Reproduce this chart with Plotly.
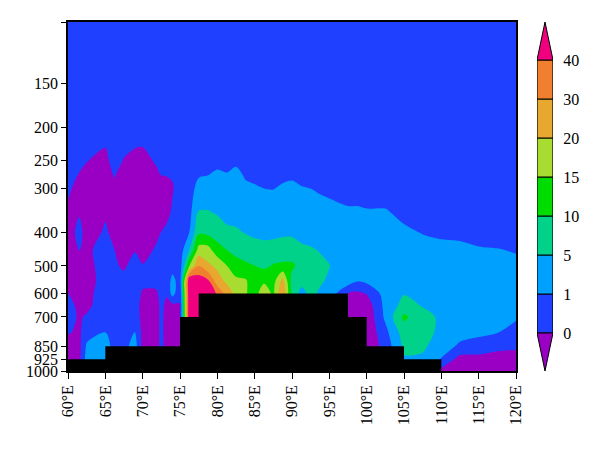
import numpy as np
import plotly.graph_objects as go

pressure = [1000, 925, 850, 775, 700, 650, 600, 550, 500, 450, 400, 350, 300, 275, 250, 225, 200, 175, 150, 100]
lons = [60, 61.5, 62.5, 65, 66.2, 67.5, 69, 70, 71.8, 72.5, 73.2, 74, 75, 76.25, 77.5, 78.75, 80, 81.25, 82.5, 83.75, 85, 86.25,
        87.5, 88.75, 90, 91.25, 92.5, 93.75, 95, 97.5, 98.75, 100, 102.5, 105, 107.5, 110, 112.5, 115, 117.5, 120]

# one list per longitude, from 1000 hPa up to 100 hPa
values_by_lon = [
    [-.4,-.4,-.5,.1,.3,.3,.02,-.3,-.4,-.5,-.5,-.2,.2,.3,.3,.3,.3,.3,.3,.3],
    [-.3,-.3,-.3,-.2,-.1,-.2,-.2,-.4,-.5,.02,.3,-.1,-.4,-.05,.2,.3,.3,.3,.3,.3],
    [2.6,2.6,1.6,.6,.1,-.2,-.3,-.4,-.3,-.15,-.4,-.5,-.4,-.15,.02,.2,.3,.3,.3,.3],
    [2.6,2.6,2.6,1.0,.6,.5,.5,.4,.4,.3,.1,-.1,-.4,-.35,-.2,.05,.3,.3,.3,.3],
    [.7,.7,.7,.6,.5,.5,.5,.4,.1,.01,-.2,-.3,-.15,.05,.3,.3,.3,.3,.3,.3],
    [.7,.7,.7,.5,.4,.4,.4,.2,-.1,-.3,-.5,-.6,-.6,-.4,-.05,.2,.3,.3,.3,.3],
    [2.6,2.6,2.6,1.2,.6,.5,.35,.35,.3,-.05,-.5,-.7,-.7,-.5,-.35,.1,.3,.3,.3,.3],
    [-.3,-.3,-.3,-.3,-.4,-.4,-.1,.2,.05,-.3,-.6,-.7,-.7,-.6,-.3,.05,.3,.3,.3,.3],
    [-.3,-.3,-.3,-.3,-.3,-.3,-.1,.2,.3,.1,-.2,-.5,-.5,-.2,.1,.3,.3,.3,.3,.3],
    [.2,.2,.2,.2,.2,.2,.2,.3,.4,.3,.01,-.3,-.3,.01,.2,.3,.3,.3,.3,.3],
    [-.3,-.3,-.3,-.3,-.3,-.2,.1,.4,.4,.3,.15,-.2,-.2,.02,.2,.3,.3,.3,.3,.3],
    [-.3,-.3,-.3,-.3,-.3,-.3,2.6,2.2,.6,.4,.3,.1,-.05,.05,.2,.3,.3,.3,.3,.3],
    [-.1,-.1,-.1,-.1,-.1,-.05,.2,.55,.5,.5,.4,.3,.3,.3,.3,.3,.3,.3,.3,.3],
    [55,55,55,55,55,55,50,55,15,5,1.0,.7,.5,.4,.3,.3,.3,.3,.3,.3],
    [55,55,55,55,55,55,50,46,30,17,9,5.25,2.6,.9,.5,.4,.3,.3,.3,.3],
    [55,55,55,55,55,55,50,41,22,17,8.5,5.25,2.6,1.0,.6,.4,.3,.3,.3,.3],
    [38,38,38,38,38,38,38,24,19,12,7.5,4.6,3,1.8,.7,.4,.3,.3,.3,.3],
    [26,26,26,26,26,26,26,19,15.2,10,6.2,3.4,2.2,1.4,.6,.4,.3,.3,.3,.3],
    [18.5,18.5,18.5,18.5,18.5,18.5,18.5,16,12,8.5,5.5,3.8,2.6,2.2,.8,.4,.3,.3,.3,.3],
    [15.5,15.5,15.5,15.5,15.5,15.5,15.5,15.5,11,7.5,4.8,3.4,1.8,.9,.5,.35,.3,.3,.3,.3],
    [13,13,13,13,13,13,13,12.5,10.1,7,4.2,3,1.4,.8,.5,.35,.3,.3,.3,.3],
    [18,18,18,18,18,18,18,14,9,6.2,4.2,2.6,1.0,.75,.5,.35,.3,.3,.3,.3],
    [14,14,14,14,14,14,14,13,10.5,6.5,4.2,2.6,.98,.7,.45,.35,.3,.3,.3,.3],
    [30,30,30,30,30,30,30,23,11,7,4.4,3,1.4,.85,.5,.35,.3,.3,.3,.3],
    [8.5,8.5,8.5,8.5,8.5,8.5,8.5,8,11,7,4.4,3,1.6,.9,.5,.35,.3,.3,.3,.3],
    [3.8,3.8,3.8,3.8,3.8,3.8,3.8,6.5,8,5.75,4,2.6,1.2,.8,.5,.35,.3,.3,.3,.3],
    [6,6,6,6,6,6,6,6.5,7,5.5,3.4,2.4,1.0,.75,.45,.35,.3,.3,.3,.3],
    [4.6,4.6,4.6,4.6,4.6,4.6,4.6,5.5,6,4.8,3.4,2.2,.9,.7,.45,.35,.3,.3,.3,.3],
    [3.6,3.6,3.6,3.6,3.6,3.6,3.6,4.6,5.1,4.2,3,1.8,.85,.6,.4,.3,.3,.3,.3,.3],
    [-.8,-.8,-.8,-.8,-.8,-.6,-.05,3.4,3.8,3.4,2.6,1.4,.7,.5,.4,.3,.3,.3,.3,.3],
    [-.8,-.8,-.8,-.8,-.8,-.6,-.2,1.4,3.4,3,2.4,1.4,.7,.5,.4,.3,.3,.3,.3,.3],
    [-.8,-.8,-.8,-.8,-.8,-.6,.05,2.2,3,3,2.2,1.2,.7,.5,.4,.3,.3,.3,.3,.3],
    [.4,.4,.4,.7,1.8,2.2,2.6,3,3,2.6,2.2,1.2,.7,.5,.4,.3,.3,.3,.3,.3],
    [4.6,4.6,6,7.5,11,6.75,4.8,3.8,3,2.2,1.4,.85,.6,.4,.35,.3,.3,.3,.3,.3],
    [4.2,4.2,6,7,6.5,4.8,3.8,3,2.6,1.8,.97,.7,.5,.4,.35,.3,.3,.3,.3,.3],
    [-.3,.95,2.6,4,4.4,3.8,3,2.6,2.2,1.6,.9,.7,.5,.4,.35,.3,.3,.3,.3,.3],
    [-.5,-.4,.85,2.2,3,3,2.6,2.2,1.8,1.4,.9,.7,.5,.4,.35,.3,.3,.3,.3,.3],
    [-.5,-.4,.7,1.6,2.2,2.2,2,1.8,1.6,1.2,.8,.6,.45,.4,.35,.3,.3,.3,.3,.3],
    [-.6,-.5,.3,1.12,1.8,1.8,1.8,1.6,1.4,1.08,.8,.6,.45,.4,.35,.3,.3,.3,.3,.3],
    [-.6,-.5,.2,.7,1.4,1.8,1.8,1.6,1.4,.97,.75,.55,.4,.35,.3,.3,.3,.3,.3,.3],
]

terrain_lon = [60, 65, 75, 77.5, 97.5, 100, 105, 110, 110, 60]
terrain_p = [925, 850, 700, 600, 700, 850, 925, 1000, 1000, 1000]

levels = [0, 1, 5, 10, 15, 20, 30, 40]
band_colors = ["#9A00C4", "#2040FF", "#00A0FF", "#00D28A", "#00DC00", "#A8DC30",
               "#E8A830", "#F08030", "#F0007E"]

x_ticks = list(range(60, 121, 5))
x_labels = [f"{v}°E" for v in x_ticks]
y_ticks = [1000, 925, 850, 700, 600, 500, 400, 300, 250, 200, 150, 100]
y_labels = ["1000", "925", "850", "700", "600", "500", "400", "300", "250", "200", "150", ""]

FONT = "Liberation Serif"
W, H = 600, 449
n_bands = len(band_colors)

# the colour bands are uneven in value, so contour on the band position
idx_pts = [-1] + list(range(len(levels))) + [len(levels)]
val_pts = [-1] + levels + [50]
z = np.interp(np.array(values_by_lon).T, val_pts, idx_pts)

scale = []
for i, c in enumerate(band_colors):
    scale += [[i / n_bands, c], [(i + 1) / n_bands, c]]

fig = go.Figure()
fig.add_trace(go.Contour(
    x=lons, y=pressure, z=z, zmin=-1, zmax=len(levels), colorscale=scale, showscale=False,
    autocontour=False, contours=dict(start=0, end=len(levels) - 1, size=1, coloring="fill", showlines=False),
    line=dict(width=0, smoothing=0.9), hoverinfo="skip"))
fig.add_trace(go.Scatter(
    x=terrain_lon, y=terrain_p, mode="lines", line=dict(shape="hv", color="black", width=0),
    fill="toself", fillcolor="black", hoverinfo="skip"))

# colour bar: inner bands as bars, the two outer bands as triangles
inner = band_colors[1:-1]
fig.add_trace(go.Bar(
    x=[0] * len(inner), y=[1] * len(inner), base=list(range(len(inner))), width=1,
    marker=dict(color=inner, line=dict(color="black", width=1.2)), xaxis="x2", yaxis="y2", hoverinfo="skip"))
tip = 38 / 39
top = len(inner)
fig.add_trace(go.Scatter(
    x=[-.5, 0, .5, -.5], y=[top, top + tip, top, top], mode="lines", fill="toself",
    fillcolor=band_colors[-1], line=dict(color="black", width=1), xaxis="x2", yaxis="y2", hoverinfo="skip"))
fig.add_trace(go.Scatter(
    x=[-.5, 0, .5, -.5], y=[0, -tip, 0, 0], mode="lines", fill="toself",
    fillcolor=band_colors[0], line=dict(color="black", width=1), xaxis="x2", yaxis="y2", hoverinfo="skip"))

axis_font = dict(family=FONT, size=16, color="black")
y_dom = [1 - 371 / H, 1 - 22 / H]
fig.update_layout(
    width=W, height=H, autosize=False, showlegend=False, paper_bgcolor="white", plot_bgcolor="white",
    margin=dict(l=0, r=0, t=0, b=0), barmode="overlay",
    xaxis=dict(domain=[68 / W, 516 / W], range=[60, 120], tickvals=x_ticks, ticktext=x_labels, tickangle=-90,
               ticks="outside", ticklen=6, tickwidth=1, tickcolor="black", showline=True, linecolor="black",
               linewidth=1.5, mirror=True, showgrid=False, zeroline=False, tickfont=axis_font, automargin=False),
    yaxis=dict(domain=y_dom, type="log", range=[3, 2], tickmode="array", tickvals=y_ticks, ticktext=y_labels,
               ticks="outside", ticklen=5, tickwidth=1, tickcolor="black", showline=True, linecolor="black",
               linewidth=1.5, mirror=True, showgrid=False, zeroline=False, tickfont=axis_font, automargin=False),
    xaxis2=dict(domain=[537 / W, 553 / W], range=[-.5, .5], anchor="y2", visible=False, fixedrange=True, automargin=False),
    yaxis2=dict(domain=y_dom, range=[-tip, top + tip], anchor="x2", side="right", tickmode="array",
                tickvals=list(range(len(levels))), ticktext=[str(v) for v in levels], ticks="outside", ticklen=6,
                tickcolor="rgba(0,0,0,0)", showline=False, showgrid=False, zeroline=False, tickfont=axis_font,
                automargin=False),
)
fig.write_html("out.html", post_script="document.body.style.margin='0';", config=dict(displayModeBar=False))
